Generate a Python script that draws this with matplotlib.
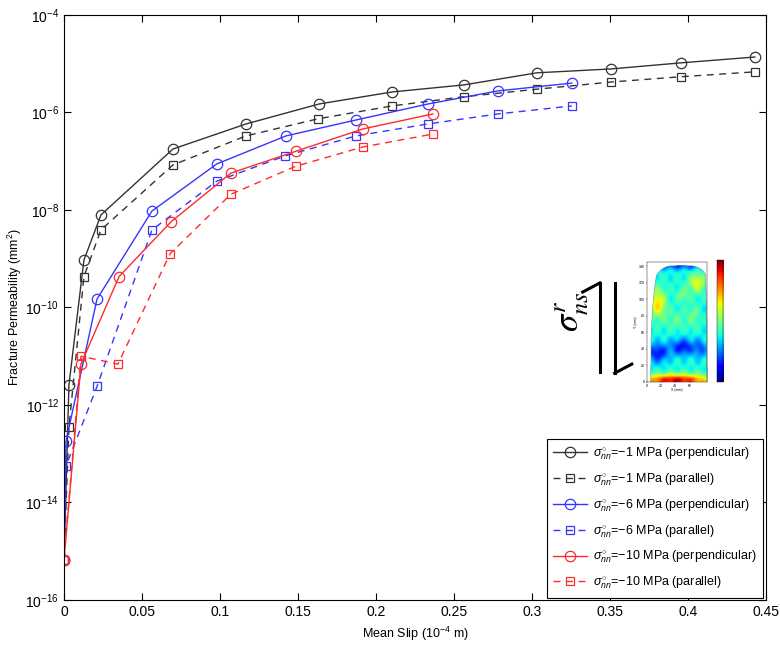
import numpy as np
import matplotlib
matplotlib.use("Agg")
import matplotlib.pyplot as plt
from matplotlib.lines import Line2D

plt.rcParams['font.family'] = ['Liberation Sans', 'DejaVu Sans']
plt.rcParams['mathtext.fontset'] = 'custom'
plt.rcParams['mathtext.rm'] = 'Liberation Sans'
plt.rcParams['mathtext.it'] = 'Liberation Sans:italic'

# mean slip (1e-4 m) and fracture permeability (mm^2)
slip_1_perp = [0.0, 0.0032, 0.0128, 0.0237, 0.0699, 0.1167, 0.1635, 0.2103, 0.2564, 0.3032, 0.3506, 0.3955, 0.4429]
perm_1_perp = [6.6e-16, 2.6e-12, 9.4e-10, 7.9e-9, 1.78e-7, 5.8e-7, 1.49e-6, 2.63e-6, 3.67e-6, 6.5e-6, 7.8e-6, 1.04e-5, 1.37e-5]

slip_1_par = [0.0, 0.0032, 0.0128, 0.0237, 0.0699, 0.1167, 0.1628, 0.2103, 0.2564, 0.3032, 0.3506, 0.3955, 0.4429]
perm_1_par = [6.6e-16, 3.5e-13, 4.3e-10, 3.9e-9, 8.4e-8, 3.3e-7, 7.4e-7, 1.36e-6, 2.1e-6, 3.0e-6, 4.2e-6, 5.4e-6, 6.8e-6]

slip_6_perp = [0.0, 0.0013, 0.0212, 0.0564, 0.098, 0.1423, 0.1872, 0.2333, 0.278, 0.3256]
perm_6_perp = [6.6e-16, 1.8e-13, 1.49e-10, 9.5e-9, 8.8e-8, 3.3e-7, 7.0e-7, 1.49e-6, 2.76e-6, 4.0e-6]

slip_6_par = [0.0, 0.0013, 0.0212, 0.0564, 0.098, 0.1417, 0.1872, 0.2333, 0.278, 0.3256]
perm_6_par = [6.6e-16, 5.6e-14, 2.4e-12, 3.9e-9, 3.9e-8, 1.28e-7, 3.3e-7, 5.8e-7, 9.3e-7, 1.36e-6]

slip_10_perp = [0.0, 0.0109, 0.0353, 0.0686, 0.107, 0.1487, 0.1917, 0.2365]
perm_10_perp = [6.6e-16, 6.9e-12, 4.3e-10, 5.7e-9, 5.7e-8, 1.6e-7, 4.6e-7, 9.3e-7]

slip_10_par = [0.0, 0.0109, 0.0346, 0.068, 0.107, 0.1487, 0.1917, 0.2365]
perm_10_par = [6.6e-16, 1.0e-11, 6.9e-12, 1.26e-9, 2.1e-8, 7.9e-8, 1.96e-7, 3.6e-7]

stress_labels = ['\u22121', '\u22121', '\u22126', '\u22126', '\u221210', '\u221210']
direction_labels = ['perpendicular', 'parallel'] * 3

fig = plt.figure(figsize=(7.8, 6.49), dpi=100)
ax = fig.add_axes([0.082, 0.0755, 0.9, 0.9015])

series = [
    (slip_1_perp, perm_1_perp, '#333333', '-', 'o', 7.5),
    (slip_1_par, perm_1_par, '#333333', (0, (5, 4)), 's', 6),
    (slip_6_perp, perm_6_perp, '#3535ff', '-', 'o', 7.5),
    (slip_6_par, perm_6_par, '#3535ff', (0, (5, 4)), 's', 6),
    (slip_10_perp, perm_10_perp, '#ff2a2a', '-', 'o', 7.5),
    (slip_10_par, perm_10_par, '#ff2a2a', (0, (5, 4)), 's', 6),
]
handles = []
for i, (x, y, c, ls, m, ms) in enumerate(series):
    ax.plot(x, y, color=c, ls=ls, lw=1.0, marker=m, ms=ms, mfc='none', mec=c, mew=0.9)
    lab = r'$\sigma^{\circ}_{nn}$=' + stress_labels[i] + ' MPa (' + direction_labels[i] + ')'
    handles.append(Line2D([], [], color=c, ls=ls, lw=1.0, marker=m, ms=ms, mfc='none', mec=c,
                          mew=0.9, label=lab))

ax.set_yscale('log')
ax.set_xlim(0, 0.45)
ax.set_ylim(1e-16, 1e-4)
ax.set_xticks(np.arange(0, 0.451, 0.05))
ax.set_xticklabels(['0', '0.05', '0.1', '0.15', '0.2', '0.25', '0.3', '0.35', '0.4', '0.45'])
ax.set_yticks([10.0 ** k for k in range(-16, -3, 2)])
ax.yaxis.set_minor_locator(matplotlib.ticker.NullLocator())
ax.tick_params(direction='in', top=True, right=True, labelsize=10, length=5, width=0.8)
for s in ax.spines.values():
    s.set_linewidth(0.8)
ax.set_xlabel('Mean Slip (10$^{-4}$ m)', fontsize=9)
ax.set_ylabel('Fracture Permeability (mm$^2$)', fontsize=9, labelpad=1)

leg = ax.legend(handles=handles, loc='lower right', fontsize=9, frameon=True, fancybox=False,
                edgecolor='black', framealpha=1, handlelength=2.7, borderaxespad=0.2,
                labelspacing=0.75, handletextpad=0.5, borderpad=0.5)
leg.get_frame().set_linewidth(0.8)

# fracture aperture map inset
xs = np.linspace(0, 85, 170)
ys = np.linspace(0, 145, 290)
X, Y = np.meshgrid(xs, ys)
blobs = [
    (15, 95, 8, 12, 0.30),
    (70, 120, 8, 8, 0.25),
    (50, 105, 6, 6, 0.12),
    (40, 75, 10, 8, 0.08),
    (65, 80, 6, 10, 0.10),
    (15, 35, 10, 8, -0.25),
    (50, 42, 12, 7, -0.25),
    (75, 40, 6, 8, -0.15),
    (40, 2, 35, 5, 0.55),
    (45, 142, 30, 4, -0.2),
]
field = 0.38 + 0.04 * np.sin(X / 3.0) * np.cos(Y / 4.0)
for bx, by, sx, sy, a in blobs:
    field = field + a * np.exp(-((X - bx) ** 2 / (2 * sx ** 2) + (Y - by) ** 2 / (2 * sy ** 2)))
left = 5 + 10 * (Y / 140.0) ** 3
right = 84 - 3 * (Y / 140.0) ** 3
top = 141 - 20 * ((X - 48) / 40.0) ** 4
mask = (X < left) | (X > right) | (Y > top)
field = np.ma.array(np.clip(field, 0, 1), mask=mask)

iax = fig.add_axes([0.829, 0.412, 0.078, 0.184])
iax.imshow(field, origin='lower', extent=[0, 85, 0, 145], cmap='jet', vmin=0, vmax=1,
           aspect='auto', interpolation='bilinear')
iax.set_xlim(0, 85)
iax.set_ylim(0, 145)
iax.set_xticks([0, 20, 40, 60])
iax.set_yticks(range(0, 141, 20))
iax.tick_params(labelsize=2.5, length=1, width=0.3, pad=0.5)
iax.set_xlabel('X (mm)', fontsize=2.5, labelpad=0.5)
iax.set_ylabel('Y (mm)', fontsize=2.5, labelpad=0.5)
for s in iax.spines.values():
    s.set_linewidth(0.3)

cax = fig.add_axes([0.919, 0.412, 0.008, 0.188])
cax.imshow(np.linspace(0, 1, 100)[:, None], origin='lower', cmap='jet', aspect='auto')
cax.set_xticks([])
cax.set_yticks([])
for s in cax.spines.values():
    s.set_linewidth(0.3)

# shear sense symbol
tf = fig.transFigure
fig.add_artist(Line2D([0.747, 0.769], [0.550, 0.564], color='black', lw=2.2, transform=tf))
fig.add_artist(Line2D([0.769, 0.769], [0.564, 0.427], color='black', lw=2.2, transform=tf))
fig.add_artist(Line2D([0.788, 0.788], [0.564, 0.425], color='black', lw=2.2, transform=tf))
fig.add_artist(Line2D([0.788, 0.810], [0.425, 0.439], color='black', lw=2.2, transform=tf))
fig.text(0.734, 0.519, r'$\sigma^{r}_{ns}$', rotation=90, fontsize=25, ha='center', va='center',
         math_fontfamily='stix')

fig.savefig('out.png', dpi=100)
